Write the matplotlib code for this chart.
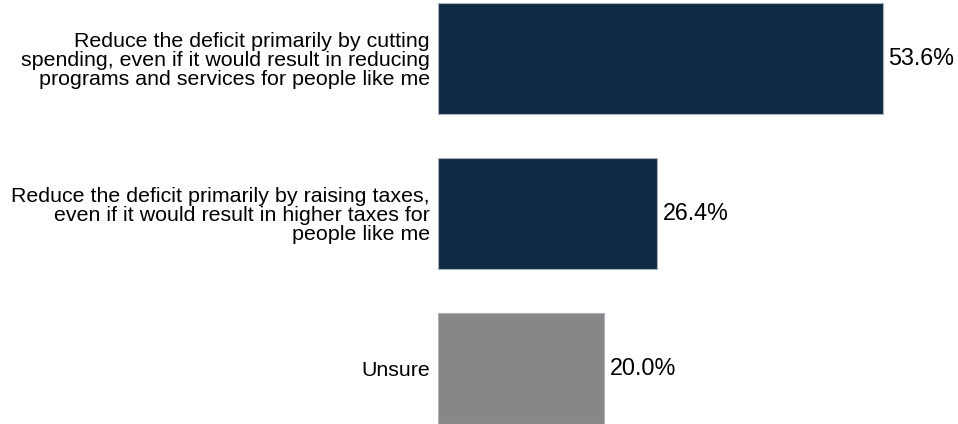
import matplotlib.pyplot as plt

categories = [
    'Reduce the deficit primarily by cutting\nspending, even if it would result in reducing\nprograms and services for people like me',
    'Reduce the deficit primarily by raising taxes,\neven if it would result in higher taxes for\npeople like me',
    'Unsure',
]
values = [53.6, 26.4, 20.0]
colors = ['#0f2a45', '#0f2a45', '#878787']

plt.rcParams['font.family'] = ['Liberation Sans', 'DejaVu Sans']

fig = plt.figure(figsize=(9.58, 4.24), dpi=100)
ax = fig.add_axes([438 / 958, 0, (936 - 438) / 958, 1])

pos = list(range(len(categories)))
rects = ax.barh(pos, values, height=0.716, color=colors,
                edgecolor='#a9b2bc', linewidth=0.8)

for rect, v in zip(rects, values):
    ax.annotate('{:.1f}%'.format(v),
                xy=(rect.get_width(), rect.get_y() + rect.get_height() / 2),
                xytext=(4, 0), textcoords='offset points',
                ha='left', va='center', fontsize=16.8, color='black')

ax.set_xlim(0, 60)
ax.set_ylim((424 - 58.5) / 155, -58.5 / 155)
ax.set_yticks(pos)
ax.set_yticklabels(categories, fontsize=15.4, linespacing=0.98)
ax.tick_params(axis='y', length=0, pad=6)
ax.set_xticks([])
for s in ax.spines.values():
    s.set_visible(False)

plt.savefig('out.png', dpi=100)
